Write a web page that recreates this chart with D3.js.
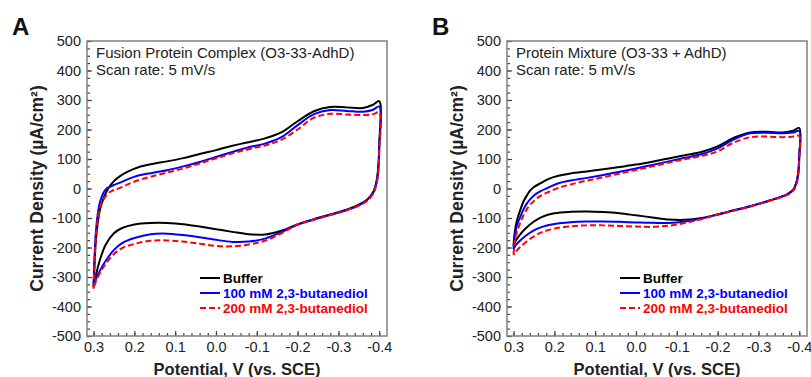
<!DOCTYPE html>
<html>
<head>
<meta charset="utf-8">
<script src="https://cdn.jsdelivr.net/npm/d3@7"></script>
<style>
  body { margin: 0; background: #fff; }
  text { font-family: Arial, "Liberation Sans", sans-serif; }
</style>
</head>
<body>
<div id="chart"></div>
<script>
// Potential grid (V vs. SCE): forward sweep 0.3 -> -0.4, reverse sweep -0.4 -> 0.3
const potFwd = [0.300, 0.298, 0.295, 0.290, 0.284, 0.276, 0.268, 0.260, 0.250, 0.235, 0.215, 0.19, 0.16, 0.12, 0.08, 0.04, 0.0, -0.04, -0.08, -0.12, -0.16, -0.20, -0.24, -0.28, -0.32, -0.36, -0.385, -0.40];
const potRev = [-0.400, -0.398, -0.394, -0.386, -0.37, -0.35, -0.32, -0.28, -0.24, -0.20, -0.16, -0.12, -0.08, -0.04, 0.0, 0.04, 0.08, 0.12, 0.16, 0.20, 0.23, 0.25, 0.27, 0.285, 0.295, 0.300];

const seriesNames = ["Buffer", "100 mM 2,3-butanediol", "200 mM 2,3-butanediol"];

// Panel A - fusion protein complex (µA/cm²)
const aBufferFwd = [-335, -270, -190, -120, -70, -35, -10, 8, 25, 42, 58, 72, 82, 92, 103, 117, 130, 145, 157, 170, 190, 228, 262, 276, 275, 273, 284, 296];
const aBufferRev = [150, 80, 30, -10, -38, -55, -72, -88, -104, -122, -143, -156, -155, -147, -138, -129, -121, -117, -117, -122, -134, -152, -190, -245, -300, -335];
const a100Fwd = [-330, -250, -160, -90, -45, -15, 0, 6, 12, 20, 32, 44, 52, 62, 75, 90, 107, 124, 140, 152, 174, 215, 252, 266, 263, 260, 267, 278];
const a100Rev = [140, 70, 25, -12, -40, -57, -73, -89, -105, -122, -148, -170, -180, -181, -174, -165, -158, -153, -155, -168, -185, -208, -245, -280, -310, -330];
const a200Fwd = [-340, -270, -180, -107, -65, -38, -22, -12, -5, 2, 15, 28, 40, 54, 68, 85, 102, 119, 133, 146, 165, 200, 240, 253, 251, 249, 252, 258];
const a200Rev = [130, 60, 20, -15, -42, -58, -74, -90, -106, -122, -152, -177, -190, -196, -195, -187, -180, -176, -177, -188, -202, -222, -255, -288, -318, -340];

// Panel B - protein mixture
const bBufferFwd = [-195, -160, -130, -100, -75, -45, -25, -8, 5, 17, 32, 43, 51, 58, 65, 73, 81, 91, 102, 113, 124, 143, 172, 190, 192, 190, 196, 205];
const bBufferRev = [110, 60, 25, -3, -20, -31, -44, -60, -74, -88, -100, -106, -105, -98, -91, -84, -80, -78, -79, -84, -96, -112, -135, -158, -178, -195];
const b100Fwd = [-205, -175, -145, -118, -98, -72, -52, -38, -24, -10, 3, 18, 27, 36, 46, 57, 68, 80, 92, 104, 116, 136, 167, 187, 189, 187, 190, 195];
const b100Rev = [110, 60, 25, -3, -20, -31, -44, -60, -74, -88, -102, -112, -117, -116, -115, -113, -112, -112, -114, -120, -130, -142, -160, -178, -193, -205];
const b200Fwd = [-225, -195, -165, -140, -118, -92, -72, -56, -42, -26, -12, 2, 14, 27, 38, 51, 63, 75, 88, 99, 110, 126, 156, 174, 176, 174, 176, 178];
const b200Rev = [100, 50, 18, -6, -22, -32, -45, -61, -75, -89, -104, -117, -126, -130, -129, -127, -125, -125, -128, -136, -148, -162, -182, -200, -215, -225];

// Tick values
const xTickValues = [0.3, 0.2, 0.1, 0.0, -0.1, -0.2, -0.3, -0.4];
const yTickValues = [500, 400, 300, 200, 100, 0, -100, -200, -300, -400, -500];

const width = 811, height = 377;
const plotTop = 41, plotBottom = 336, plotWidth = 300;

const styles = [
  { color: "#000000", dash: null },
  { color: "#0000ff", dash: null },
  { color: "#ff0000", dash: "6,3" },
];

const svg = d3
  .select("#chart")
  .append("svg")
  .attr("width", width)
  .attr("height", height);

// samler fwd + rev til en lukket loop
function loop(fwd, rev) {
  return potFwd
    .map((v, i) => [v, fwd[i]])
    .concat(potRev.map((v, i) => [v, rev[i]]));
}

function drawPanel(left, letter, titleLines, curves) {
  const g = svg.append("g");

  const x = d3.scaleLinear().domain([0.316, -0.419]).range([left, left + plotWidth]);
  const y = d3.scaleLinear().domain([-500, 500]).range([plotBottom, plotTop]);

  // minor ticks
  g.append("g")
    .attr("transform", `translate(0,${plotBottom})`)
    .call(
      d3.axisBottom(x)
        .tickValues(d3.range(0, 36).map((i) => 0.3 - i * 0.02))
        .tickSize(-3)
        .tickSizeOuter(0)
        .tickFormat("")
    );
  g.append("g")
    .attr("transform", `translate(${left},0)`)
    .call(
      d3.axisLeft(y)
        .tickValues(d3.range(-500, 501, 25))
        .tickSize(-3)
        .tickSizeOuter(0)
        .tickFormat("")
    );

  // major ticks + labels
  g.append("g")
    .attr("transform", `translate(0,${plotBottom})`)
    .call(
      d3.axisBottom(x)
        .tickValues(xTickValues)
        .tickSize(-5)
        .tickSizeOuter(0)
        .tickPadding(6)
        .tickFormat((d) => d.toFixed(1))
    );
  g.append("g")
    .attr("transform", `translate(${left},0)`)
    .call(
      d3.axisLeft(y)
        .tickValues(yTickValues)
        .tickSize(-5)
        .tickSizeOuter(0)
        .tickPadding(6)
        .tickFormat((d) => String(d))
    );

  g.selectAll(".domain").remove();
  g.selectAll(".tick line").attr("stroke", "#444").attr("stroke-width", 1.2);
  g.selectAll(".tick text")
    .attr("font-size", "14.5px")
    .attr("fill", "#222")
    .attr("font-family", "Arial, 'Liberation Sans', sans-serif");

  // kurver
  const line = d3
    .line()
    .x((d) => x(d[0]))
    .y((d) => y(d[1]))
    .curve(d3.curveCatmullRom.alpha(0.5));

  curves.forEach((c, i) => {
    g.append("path")
      .datum(loop(c[0], c[1]))
      .attr("d", line)
      .attr("fill", "none")
      .attr("stroke", styles[i].color)
      .attr("stroke-width", 2)
      .attr("stroke-dasharray", styles[i].dash);
  });

  // ramme
  g.append("rect")
    .attr("x", left)
    .attr("y", plotTop)
    .attr("width", plotWidth)
    .attr("height", plotBottom - plotTop)
    .attr("fill", "none")
    .attr("stroke", "#808080")
    .attr("stroke-width", 1.5);

  // titel i plottet
  titleLines.forEach((t, i) => {
    g.append("text")
      .attr("x", left + 9)
      .attr("y", 58 + i * 17)
      .attr("font-size", "15px")
      .attr("fill", "#222")
      .text(t);
  });

  // legend
  seriesNames.forEach((name, i) => {
    const ly = 278 + i * 15;
    g.append("line")
      .attr("x1", left + 113)
      .attr("x2", left + 133)
      .attr("y1", ly)
      .attr("y2", ly)
      .attr("stroke", styles[i].color)
      .attr("stroke-width", 2)
      .attr("stroke-dasharray", styles[i].dash);
    g.append("text")
      .attr("x", left + 136)
      .attr("y", ly)
      .attr("dy", "0.35em")
      .attr("font-size", "13.5px")
      .attr("font-weight", "bold")
      .attr("fill", styles[i].color)
      .text(name);
  });

  // aksetitler
  g.append("text")
    .attr("x", left + plotWidth / 2)
    .attr("y", 375)
    .attr("text-anchor", "middle")
    .attr("font-size", "16.5px")
    .attr("font-weight", "bold")
    .attr("fill", "#222")
    .text("Potential, V (vs. SCE)");

  g.append("text")
    .attr("transform", `translate(${left - 44},${(plotTop + plotBottom) / 2}) rotate(-90)`)
    .attr("text-anchor", "middle")
    .attr("font-size", "17.5px")
    .attr("font-weight", "bold")
    .attr("fill", "#222")
    .text("Current Density (µA/cm²)");

  // panel bogstav
  g.append("text")
    .attr("x", left - 75)
    .attr("y", 35)
    .attr("font-size", "24px")
    .attr("font-weight", "bold")
    .attr("fill", "#111")
    .text(letter);
}

drawPanel(87, "A", ["Fusion Protein Complex (O3-33-AdhD)", "Scan rate: 5 mV/s"], [
  [aBufferFwd, aBufferRev],
  [a100Fwd, a100Rev],
  [a200Fwd, a200Rev],
]);

drawPanel(507, "B", ["Protein Mixture (O3-33 + AdhD)", "Scan rate: 5 mV/s"], [
  [bBufferFwd, bBufferRev],
  [b100Fwd, b100Rev],
  [b200Fwd, b200Rev],
]);
</script>
</body>
</html>
